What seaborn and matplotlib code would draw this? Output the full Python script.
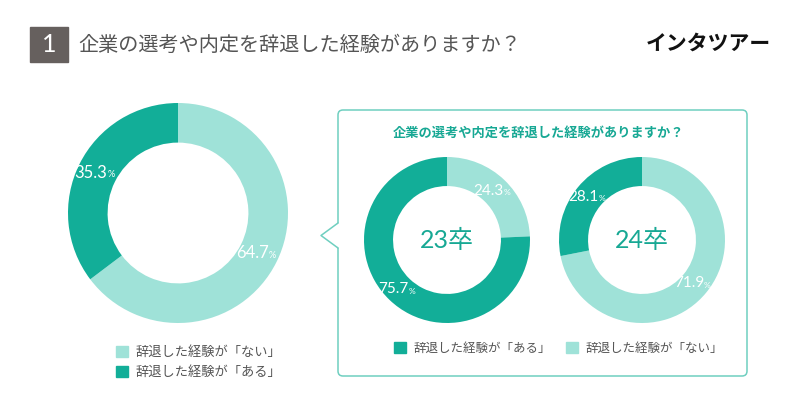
import numpy as np
import matplotlib
matplotlib.use("Agg")
import matplotlib.pyplot as plt
import seaborn as sns
from matplotlib.patches import FancyBboxPatch, Patch, Rectangle, Polygon

sns.set_theme(style="white")
plt.rcParams['font.family'] = ['Noto Sans CJK JP', 'DejaVu Sans']

# data
title = "企業の選考や内定を辞退した経験がありますか？"
label_nai = "辞退した経験が「ない」"
label_aru = "辞退した経験が「ある」"
overall_values = [64.7, 35.3]          # ない, ある
grad_groups = ["23卒", "24卒"]
grad_nai = [24.3, 71.9]
grad_aru = [75.7, 28.1]

DARK = "#12AE98"
LIGHT = "#9FE2D8"
TEAL_TEXT = "#17A894"
GRAY = "#555555"

W, H = 800, 396
fig = plt.figure(figsize=(W / 100, H / 100), dpi=100)

# background axes in pixel coordinates for decorations
bg = fig.add_axes([0, 0, 1, 1])
bg.set_xlim(0, W)
bg.set_ylim(H, 0)
bg.axis('off')

# header
bg.add_patch(Rectangle((30, 27), 38, 35, color="#66605E"))
bg.text(49, 45, "1", color="white", fontsize=18, ha='center', va='center', family=['Lato'])
bg.text(78, 45, title, color=GRAY, fontsize=14.5, ha='left', va='center')
bg.text(708, 43, "インタツアー", color="#111111", fontsize=15, fontweight='bold',
        ha='center', va='center')

# speech bubble box
box = FancyBboxPatch((338, 110), 409, 266, boxstyle="round,pad=0,rounding_size=5",
                     facecolor="white", edgecolor="#6FCFC0", linewidth=1.1)
bg.add_patch(box)
bg.add_patch(Polygon([(339, 223), (339, 248), (321, 235.5)], closed=True,
                     facecolor="white", edgecolor="none", zorder=3))
bg.plot([338, 321, 338], [223, 235.5, 248], color="#6FCFC0", linewidth=1.1, zorder=4)
bg.text(539, 133, title, color=TEAL_TEXT, fontsize=9.5, fontweight='bold',
        ha='center', va='center')


def donut(cx, cy, r, values, colors, width, fs):
    ax = fig.add_axes([(cx - r) / W, (H - cy - r) / H, 2 * r / W, 2 * r / H])
    wedges, _ = ax.pie(values, colors=colors, startangle=90, counterclock=False,
                       wedgeprops=dict(width=width, linewidth=0))
    ax.set_xlim(-1, 1)
    ax.set_ylim(-1, 1)
    ax.axis('off')
    rm = 1 - width / 2
    for w, v in zip(wedges, values):
        ang = np.deg2rad((w.theta1 + w.theta2) / 2)
        x, y = rm * np.cos(ang), rm * np.sin(ang)
        ax.annotate(f"{v:.1f}", (x, y), xytext=(fs * 0.6, 0), textcoords="offset points",
                    ha='right', va='center', color='white', fontsize=fs, family=['Lato'],
                    annotation_clip=False, clip_on=False)
        ax.annotate("%", (x, y), xytext=(fs * 0.6, -1.5), textcoords="offset points",
                    ha='left', va='center', color='white', fontsize=fs * 0.55,
                    family=['Lato'], annotation_clip=False, clip_on=False)
    return ax


donut(178, 213, 110, overall_values, [LIGHT, DARK], 0.36, 12)

for cx, grp, nai, aru in zip([447, 642], grad_groups, grad_nai, grad_aru):
    ax = donut(cx, 240, 83, [nai, aru], [LIGHT, DARK], 0.35, 11)
    ax.text(0, 0, grp, color=TEAL_TEXT, fontsize=18, ha='center', va='center',
            family=['Lato', 'Noto Sans CJK JP'])

# legends
leg1 = bg.legend([Patch(color=LIGHT), Patch(color=DARK)], [label_nai, label_aru],
                 loc='upper left', bbox_to_anchor=(104, 334), bbox_transform=bg.transData,
                 frameon=False, fontsize=9.5, handlelength=0.9, handleheight=0.9,
                 handletextpad=0.6, labelspacing=0.55, labelcolor=GRAY)
bg.add_artist(leg1)
bg.legend([Patch(color=DARK), Patch(color=LIGHT)], [label_aru, label_nai],
          loc='center left', bbox_to_anchor=(383, 348), bbox_transform=bg.transData,
          frameon=False, fontsize=9, handlelength=0.95, handleheight=0.95,
          handletextpad=0.6, ncol=2, columnspacing=1.2, labelcolor=GRAY)

fig.savefig("out.png", dpi=100, facecolor="white")
